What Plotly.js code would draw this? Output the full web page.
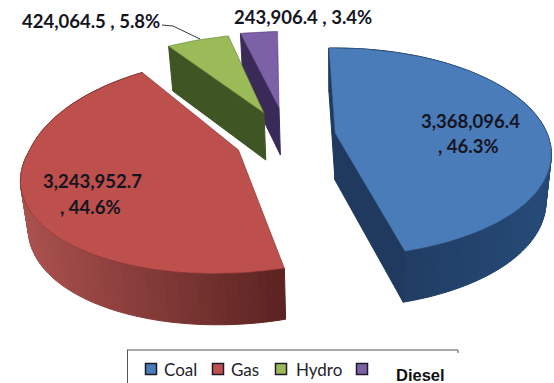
<!DOCTYPE html>
<html>
<head>
<meta charset="utf-8">
<script src="https://cdn.plot.ly/plotly-3.0.1.min.js"></script>
<style>html,body{margin:0;padding:0;background:#fff}#chart{width:554px;height:383px}</style>
</head>
<body>
<div id="chart"></div>
<script>
// Generation by fuel source
const categories = ['Coal', 'Gas', 'Hydro', 'Diesel'];
const generation = [3368096.4, 3243952.7, 424064.5, 243906.4];

// Slice appearance
const topColors = ['#4a7cba', '#bd4f4c', '#9bbb59', '#7d61a6'];
const edgeColors = ['#2f5685', '#7d2f2d', '#5f7a30', '#4f3b73'];
const faceColors = ['#1f3a5e', '#7a3331', '#3f5524', '#3a2a58'];
const rimLeft = ['#1d3557', '#ab524f'];
const rimRight = ['#264a78', '#5c2321'];
const legendColors = ['#4a7cba', '#c0504d', '#9bbb59', '#7d61a6'];

// Where each exploded slice's tip sits on the page, and which radial faces show
const tipX = [335, 238.5, 264, 279];
const tipY = [133, 150, 113, 108];
const showFace = [[true, true], [false, false], [true, false], [true, false]];
const showRim = [true, true, false, false];
const widthScale = [1, 0.985, 0.96, 1];
const farScale = [1, 1.08, 0.93, 0.9];

// Perspective camera for the tilted disc
const startAngle = -2, radiusX = 212, radiusY = 102, persp = 0.2, vanishX = 335;
const baseDepth = 47, baseShrink = 0.975;

const total = generation.reduce((a, b) => a + b, 0);
const rad = d => d * Math.PI / 180;

function rimPoint(i, deg) {
  const u = Math.sin(rad(deg)), v = -Math.cos(rad(deg));
  const s = 1 / (1 - persp * v);
  const pull = s < 1 ? (s - 1) * 0.5 : s - 1;
  const yScale = v < 0 ? farScale[i] : 1 - 0.03 * v;
  return {
    x: tipX[i] + radiusX * widthScale[i] * u * s + (tipX[i] - vanishX) * pull,
    y: tipY[i] + radiusY * yScale * v * s,
    s
  };
}
function lower(p) {
  return {
    x: vanishX + (p.x - vanishX) * baseShrink,
    y: p.y + baseDepth * (1 + 0.35 * (p.s - 1))
  };
}
function hex(c) { return [1, 3, 5].map(k => parseInt(c.substr(k, 2), 16)); }
function mix(a, b, t) {
  const A = hex(a), B = hex(b);
  t = Math.min(1, Math.max(0, t));
  return 'rgb(' + A.map((n, k) => Math.round(n + (B[k] - n) * t)).join(',') + ')';
}
function poly(pts, fill, line, width) {
  const xs = pts.map(p => p.x), ys = pts.map(p => p.y);
  xs.push(xs[0]); ys.push(ys[0]);
  return {
    type: 'scatter', mode: 'lines', x: xs, y: ys, fill: 'toself', fillcolor: fill,
    line: {color: line || fill, width: width === undefined ? 1 : width},
    hoverinfo: 'skip', showlegend: false
  };
}

// Angular span of each slice, clockwise from the top
const spans = [];
let cursor = startAngle;
generation.forEach(v => {
  const sweep = v / total * 360;
  spans.push([cursor, cursor + sweep]);
  cursor += sweep;
});

const traces = [];
// Paint far slices first so nearer ones overlap them
[3, 2, 1, 0].forEach(i => {
  const [a0, a1] = spans[i];
  const steps = Math.max(6, Math.round((a1 - a0) / 1.5));
  const arc = [];
  for (let k = 0; k <= steps; k++) arc.push(rimPoint(i, a0 + (a1 - a0) * k / steps));
  const tip = {x: tipX[i], y: tipY[i], s: 1};

  // Outer wall in short strips, shaded from left to right across the page
  if (showRim[i]) {
    const xs = arc.map(p => p.x);
    const xMin = Math.min(...xs), xMax = Math.max(...xs);
    for (let k = 0; k < steps; k++) {
      const col = mix(rimLeft[i], rimRight[i], (arc[k].x - xMin) / (xMax - xMin));
      traces.push(poly([arc[k], arc[k + 1], lower(arc[k + 1]), lower(arc[k])], col));
    }
  }
  // Cut faces
  [arc[0], arc[steps]].forEach((p, f) => {
    if (showFace[i][f]) traces.push(poly([p, tip, lower(tip), lower(p)], faceColors[i]));
  });
  // Top surface
  traces.push(poly([tip].concat(arc), topColors[i], edgeColors[i], 0.6));
});

// Legend swatches
const legendX = [151, 218, 281, 362];
const legendTextX = [162, 229, 294, 394];
const legendTextY = [369, 369, 369, 375];
traces.push({
  type: 'scatter', mode: 'markers', x: legendX, y: [369, 369, 369, 369],
  marker: {symbol: 'square', size: 11, color: legendColors, line: {color: '#1c1c28', width: 1.5}},
  hoverinfo: 'skip', showlegend: false
});

// Data labels built from the values
const amount = v => v.toLocaleString('en-US', {minimumFractionDigits: 1, maximumFractionDigits: 1});
const share = v => (v / total * 100).toFixed(1) + '%';
const labelFont = {family: 'Lato, "Open Sans", sans-serif', size: 18.5, color: '#15151f', weight: 700};
const note = (text, x, y, anchor, font) => ({
  text, x, y, xref: 'x', yref: 'y', xanchor: anchor, yanchor: 'middle', showarrow: false, font
});
const annotations = [
  note(amount(generation[0]), 470, 121, 'center', labelFont),
  note(', ' + share(generation[0]), 468, 146, 'center', labelFont),
  note(amount(generation[1]), 92, 181, 'center', labelFont),
  note(', ' + share(generation[1]), 90, 207, 'center', labelFont),
  note(amount(generation[2]) + ' , ' + share(generation[2]), 20, 21, 'left', labelFont),
  note(amount(generation[3]) + ' , ' + share(generation[3]), 232, 17, 'left', labelFont)
];
categories.forEach((c, i) => {
  const font = i === 3
    ? {family: '"Liberation Sans", Arial, sans-serif', size: 16.5, color: '#111', weight: 700}
    : {family: 'Lato, sans-serif', size: 17, color: '#23232b'};
  annotations.push(note(c, legendTextX[i], legendTextY[i], 'left', font));
});

// Leader from the Hydro label to its slice
traces.push({
  type: 'scatter', mode: 'lines', x: [162, 173, 200], y: [25, 26, 39],
  line: {color: '#3a3f3a', width: 1}, hoverinfo: 'skip', showlegend: false
});

const shapes = [
  {type: 'line', x0: 127, x1: 458, y0: 350, y1: 350, line: {color: '#555', width: 1}},
  {type: 'line', x0: 127.5, x1: 127.5, y0: 350, y1: 383, line: {color: '#555', width: 1}},
  {type: 'line', x0: 458, x1: 458, y0: 350, y1: 353, line: {color: '#555', width: 1}}
];

const hidden = {visible: false, fixedrange: true, showgrid: false, zeroline: false};
Plotly.newPlot('chart', traces, {
  width: 554, height: 383,
  margin: {l: 0, r: 0, t: 0, b: 0},
  paper_bgcolor: '#fff', plot_bgcolor: '#fff',
  showlegend: false,
  xaxis: Object.assign({range: [0, 554]}, hidden),
  yaxis: Object.assign({range: [383, 0]}, hidden),
  annotations, shapes
}, {displayModeBar: false, staticPlot: true});
</script>
</body>
</html>
